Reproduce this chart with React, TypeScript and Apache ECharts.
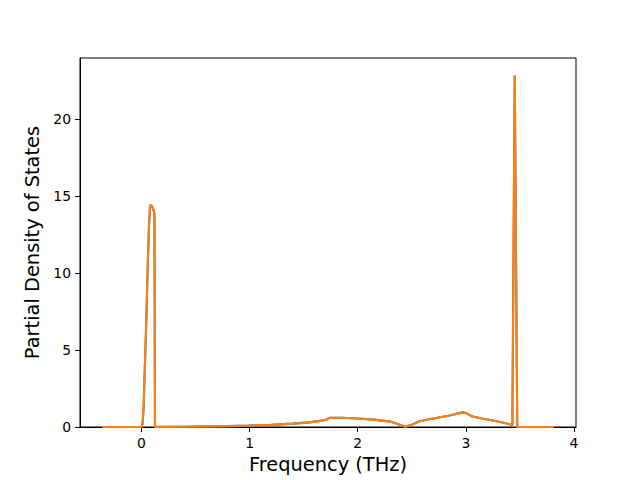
import React, { useEffect, useRef } from "react";
import * as echarts from "echarts";

// Frequency (THz) sample points and partial DOS values
const freq: number[] = [
  -0.36, 0.0, 0.01, 0.02, 0.03, 0.04, 0.05, 0.06, 0.07, 0.08, 0.09, 0.1, 0.11, 0.12, 0.125,
  0.2, 0.4, 0.6, 0.8, 1.0, 1.2, 1.4, 1.55, 1.65, 1.7, 1.74, 1.85, 2.0, 2.15, 2.3, 2.37,
  2.44, 2.5, 2.57, 2.7, 2.85, 2.97, 3.0, 3.06, 3.15, 3.25, 3.35, 3.43, 3.452, 3.475, 3.81,
];
const dosA: number[] = [
  0, 0, 0.2, 1.3, 3.6, 5.8, 8.3, 11.0, 13.2, 14.4, 14.4, 14.3, 14.1, 13.9, 0,
  0.01, 0.02, 0.04, 0.06, 0.09, 0.14, 0.22, 0.3, 0.4, 0.45, 0.6, 0.6, 0.55, 0.48, 0.35, 0.2,
  0.02, 0.15, 0.37, 0.55, 0.75, 0.95, 0.9, 0.68, 0.55, 0.42, 0.28, 0.13, 22.83, 0, 0,
];
const dosB: number[] = dosA.slice();

const xTicks: number[] = [0, 1, 2, 3, 4];
const yTicks: number[] = [0, 5, 10, 15, 20];

const xLabel = "Frequency (THz)";
const yLabel = "Partial Density of States";

export default function App() {
  const ref = useRef<HTMLDivElement>(null);
  useEffect(() => {
    if (!ref.current) return;
    const chart = echarts.init(ref.current, undefined, { renderer: "svg" });
    const xMinD = Math.min(...freq);
    const xMaxD = Math.max(...freq);
    const xr = xMaxD - xMinD;
    const yMaxD = Math.max(...dosA, ...dosB);
    const font = "DejaVu Sans";
    const axisLine = { show: true, onZero: false, lineStyle: { color: "#000", width: 1 } };
    const tickBase = { show: true, inside: false, length: 5, lineStyle: { color: "#000", width: 1 } };
    chart.setOption({
      animation: false,
      backgroundColor: "#fff",
      grid: {
        left: 80,
        right: 64,
        top: 58,
        bottom: 53,
        show: true,
        borderColor: "#000",
        borderWidth: 1,
        backgroundColor: "transparent",
      },
      xAxis: {
        type: "value",
        min: xMinD - 0.05 * xr,
        max: xMaxD + 0.05 * xr,
        axisLine,
        splitLine: { show: false },
        axisTick: { ...tickBase, customValues: xTicks },
        axisLabel: {
          customValues: xTicks,
          color: "#000",
          fontFamily: font,
          fontSize: 13.9,
          margin: 9,
        },
        name: xLabel,
        nameLocation: "middle",
        nameGap: 28,
        nameTextStyle: { color: "#000", fontFamily: font, fontSize: 19.4 },
      },
      yAxis: {
        type: "value",
        min: 0,
        max: yMaxD * 1.05,
        axisLine,
        splitLine: { show: false },
        axisTick: { ...tickBase, customValues: yTicks },
        axisLabel: {
          customValues: yTicks,
          color: "#000",
          fontFamily: font,
          fontSize: 13.9,
          margin: 9,
        },
        name: yLabel,
        nameLocation: "middle",
        nameRotate: 90,
        nameGap: 34,
        nameTextStyle: { color: "#000", fontFamily: font, fontSize: 19.4 },
      },
      series: [
        {
          type: "line",
          data: freq.map((f, i) => [f, dosA[i]]),
          showSymbol: false,
          lineStyle: { color: "#1f77b4", width: 2.1 },
          itemStyle: { color: "#1f77b4" },
        },
        {
          type: "line",
          data: freq.map((f, i) => [f, dosB[i]]),
          showSymbol: false,
          lineStyle: { color: "#ff7f0e", width: 2.1 },
          itemStyle: { color: "#ff7f0e" },
        },
      ],
    });
    return () => chart.dispose();
  }, []);
  return (
    <div
      ref={ref}
      style={{ position: "absolute", left: 0, top: 0, width: 640, height: 480 }}
    />
  );
}
